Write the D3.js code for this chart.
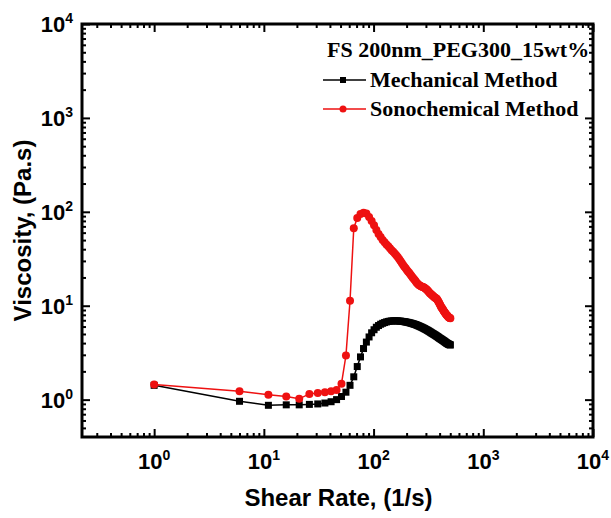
<!DOCTYPE html>
<html>
<head>
<meta charset="utf-8">
<script src="https://cdn.jsdelivr.net/npm/d3@7"></script>
<style>
  body { margin: 0; background: #fff; }
  svg { display: block; }
</style>
</head>
<body>
<svg id="chart" width="611" height="518"></svg>
<script>
// shear rate (1/s)
const shearRate = [
  1, 6, 11, 16, 21, 26, 31, 36, 41, 46, 51, 56, 61, 66, 71, 76, 81, 86, 91, 96,
  101, 106, 111, 116, 121, 126, 131, 136, 141, 146, 151, 156, 161, 166, 171, 176, 181, 186, 191, 196,
  201, 206, 211, 216, 221, 226, 231, 236, 241, 246, 251, 256, 261, 266, 271, 276, 281, 286, 291, 296,
  301, 306, 311, 316, 321, 326, 331, 336, 341, 346, 351, 356, 361, 366, 371, 376, 381, 386, 391, 396,
  401, 406, 411, 416, 421, 426, 431, 436, 441, 446, 451, 456, 461, 466, 471, 476, 481, 486, 491, 496, 501
];

// viscosity (Pa.s), mechanical method
const mechanical = [
  1.42, 0.96, 0.87, 0.88, 0.88, 0.89, 0.90, 0.92, 0.95, 1.00, 1.08, 1.20, 1.42, 1.75, 2.25, 2.85, 3.50, 4.10, 4.65, 5.15,
  5.55, 5.90, 6.15, 6.35, 6.50, 6.62, 6.72, 6.80, 6.85, 6.88, 6.90, 6.91, 6.90, 6.89, 6.87, 6.85, 6.82, 6.79, 6.76, 6.72,
  6.68, 6.64, 6.60, 6.55, 6.50, 6.45, 6.40, 6.35, 6.30, 6.24, 6.18, 6.12, 6.06, 6.00, 5.94, 5.88, 5.82, 5.76, 5.70, 5.64,
  5.58, 5.52, 5.46, 5.40, 5.34, 5.28, 5.22, 5.16, 5.10, 5.05, 5.00, 4.95, 4.90, 4.85, 4.80, 4.75, 4.70, 4.65, 4.60, 4.55,
  4.50, 4.46, 4.42, 4.38, 4.34, 4.30, 4.26, 4.22, 4.18, 4.14, 4.10, 4.06, 4.02, 3.99, 3.96, 3.93, 3.90, 3.88, 3.86, 3.84, 3.82
];

// viscosity (Pa.s), sonochemical method
const sonochemical = [
  1.45, 1.23, 1.13, 1.08, 1.02, 1.15, 1.18, 1.20, 1.23, 1.27, 1.48, 2.95, 11.3, 67, 86, 95, 98, 96, 88, 80,
  72, 64, 58, 54, 50, 47.5, 45, 43, 41, 39, 37.5, 36, 34.5, 33, 31.5, 30, 28.5, 27.2, 26, 25,
  24, 23.2, 22.4, 21.6, 20.8, 20.1, 19.5, 18.9, 18.3, 17.7, 17.2, 16.8, 16.5, 16.3, 16.1, 15.9, 15.8, 15.7, 15.5, 15.3,
  15.1, 14.8, 14.5, 14.2, 13.9, 13.6, 13.4, 13.2, 13.0, 12.8, 12.6, 12.4, 12.2, 12.1, 12.0, 11.9, 11.6, 11.3, 11.0, 10.7,
  10.4, 10.1, 9.8, 9.6, 9.4, 9.2, 9.0, 8.8, 8.6, 8.45, 8.3, 8.15, 8.0, 7.9, 7.8, 7.7, 7.6, 7.5, 7.45, 7.4, 7.35
];

const xMajor = [1, 10, 100, 1000, 10000];
const yMajor = [1, 10, 100, 1000, 10000];
const xMinor = [0.3, 0.4, 0.5, 0.6, 0.7, 0.8, 0.9, 2, 3, 4, 5, 6, 7, 8, 9, 20, 30, 40, 50, 60, 70, 80, 90,
  200, 300, 400, 500, 600, 700, 800, 900, 2000, 3000, 4000, 5000, 6000, 7000, 8000, 9000];
const yMinor = [0.5, 0.6, 0.7, 0.8, 0.9, 2, 3, 4, 5, 6, 7, 8, 9, 20, 30, 40, 50, 60, 70, 80, 90,
  200, 300, 400, 500, 600, 700, 800, 900, 2000, 3000, 4000, 5000, 6000, 7000, 8000, 9000];
const exponents = ['0', '1', '2', '3', '4'];

const legendTitle = 'FS 200nm_PEG300_15wt%';
const seriesNames = ['Mechanical Method', 'Sonochemical Method'];
const colors = ['#000000', '#ee1111'];

const svg = d3.select('#chart');
const margin = { top: 24, right: 18, bottom: 81, left: 82 };
const width = 611 - margin.left - margin.right;
const height = 518 - margin.top - margin.bottom;

const x = d3.scaleLog().domain([0.22, 10000]).range([0, width]);
const y = d3.scaleLog().domain([0.4, 10000]).range([height, 0]);

const chart = svg.append('g').attr('transform', `translate(${margin.left},${margin.top})`);

// ticks (inward, all four sides)
function tickAxis(axisFn, scale, values, size, tx, ty) {
  const g = chart.append('g')
    .attr('transform', `translate(${tx},${ty})`)
    .call(axisFn(scale).tickValues(values).tickSize(size).tickFormat(''));
  g.select('.domain').remove();
  g.selectAll('line').attr('stroke', '#000').attr('stroke-width', 2);
}
tickAxis(d3.axisBottom, x, xMajor, -8, 0, height);
tickAxis(d3.axisBottom, x, xMinor, -4, 0, height);
tickAxis(d3.axisTop, x, xMajor, -8, 0, 0);
tickAxis(d3.axisTop, x, xMinor, -4, 0, 0);
tickAxis(d3.axisLeft, y, yMajor, -8, 0, 0);
tickAxis(d3.axisLeft, y, yMinor, -4, 0, 0);
tickAxis(d3.axisRight, y, yMajor, -8, width, 0);
tickAxis(d3.axisRight, y, yMinor, -4, width, 0);

// frame
chart.append('rect')
  .attr('width', width).attr('height', height)
  .attr('fill', 'none').attr('stroke', '#000').attr('stroke-width', 3);

// tick labels
const labelFont = '"Liberation Sans", Arial, sans-serif';
xMajor.forEach((v, i) => {
  const t = chart.append('text')
    .attr('x', x(v)).attr('y', height + 32)
    .attr('text-anchor', 'middle')
    .style('font-family', labelFont).style('font-weight', 'bold').style('font-size', '22px');
  t.append('tspan').text('10');
  t.append('tspan').attr('dy', -9).style('font-size', '14px').text(exponents[i]);
});
yMajor.forEach((v, i) => {
  const t = chart.append('text')
    .attr('x', -9).attr('y', y(v) + 8)
    .attr('text-anchor', 'end')
    .style('font-family', labelFont).style('font-weight', 'bold').style('font-size', '22px');
  t.append('tspan').text('10');
  t.append('tspan').attr('dy', -9).style('font-size', '14px').text(exponents[i]);
});

// axis titles
svg.append('text')
  .attr('x', margin.left + width / 2 + 1).attr('y', 506)
  .attr('text-anchor', 'middle')
  .style('font-family', labelFont).style('font-weight', 'bold').style('font-size', '24px')
  .text('Shear Rate, (1/s)');
svg.append('text')
  .attr('transform', `translate(31,${margin.top + height / 2}) rotate(-90)`)
  .attr('text-anchor', 'middle')
  .style('font-family', labelFont).style('font-weight', 'bold').style('font-size', '24px')
  .text('Viscosity, (Pa.s)');

// series
const series = [mechanical, sonochemical];
const line = d3.line().x(d => x(d[0])).y(d => y(d[1]));

series.forEach((vals, si) => {
  const pts = shearRate.map((r, i) => [r, vals[i]]);
  chart.append('path')
    .datum(pts)
    .attr('fill', 'none')
    .attr('stroke', colors[si])
    .attr('stroke-width', 1.5)
    .attr('d', line);
  if (si === 0) {
    chart.selectAll('rect.m0').data(pts).enter().append('rect')
      .attr('class', 'm0')
      .attr('x', d => x(d[0]) - 3.5).attr('y', d => y(d[1]) - 3.5)
      .attr('width', 7).attr('height', 7)
      .attr('fill', colors[si]);
  } else {
    chart.selectAll('circle.m1').data(pts).enter().append('circle')
      .attr('class', 'm1')
      .attr('cx', d => x(d[0])).attr('cy', d => y(d[1]))
      .attr('r', 4)
      .attr('fill', colors[si]);
  }
});

// legend
const legendFont = '"Liberation Serif", "Times New Roman", serif';
svg.append('text')
  .attr('x', 327).attr('y', 57)
  .style('font-family', legendFont).style('font-weight', 'bold').style('font-size', '22px')
  .text(legendTitle);
seriesNames.forEach((name, i) => {
  const ly = 80 + i * 29;
  svg.append('line')
    .attr('x1', 323).attr('x2', 366).attr('y1', ly).attr('y2', ly)
    .attr('stroke', colors[i]).attr('stroke-width', 1.5);
  if (i === 0) {
    svg.append('rect').attr('x', 340).attr('y', ly - 3).attr('width', 6).attr('height', 6).attr('fill', colors[i]);
  } else {
    svg.append('circle').attr('cx', 343).attr('cy', ly).attr('r', 3.5).attr('fill', colors[i]);
  }
  svg.append('text')
    .attr('x', 370).attr('y', ly + 7)
    .style('font-family', legendFont).style('font-weight', 'bold').style('font-size', '22px')
    .text(name);
});
</script>
</body>
</html>
